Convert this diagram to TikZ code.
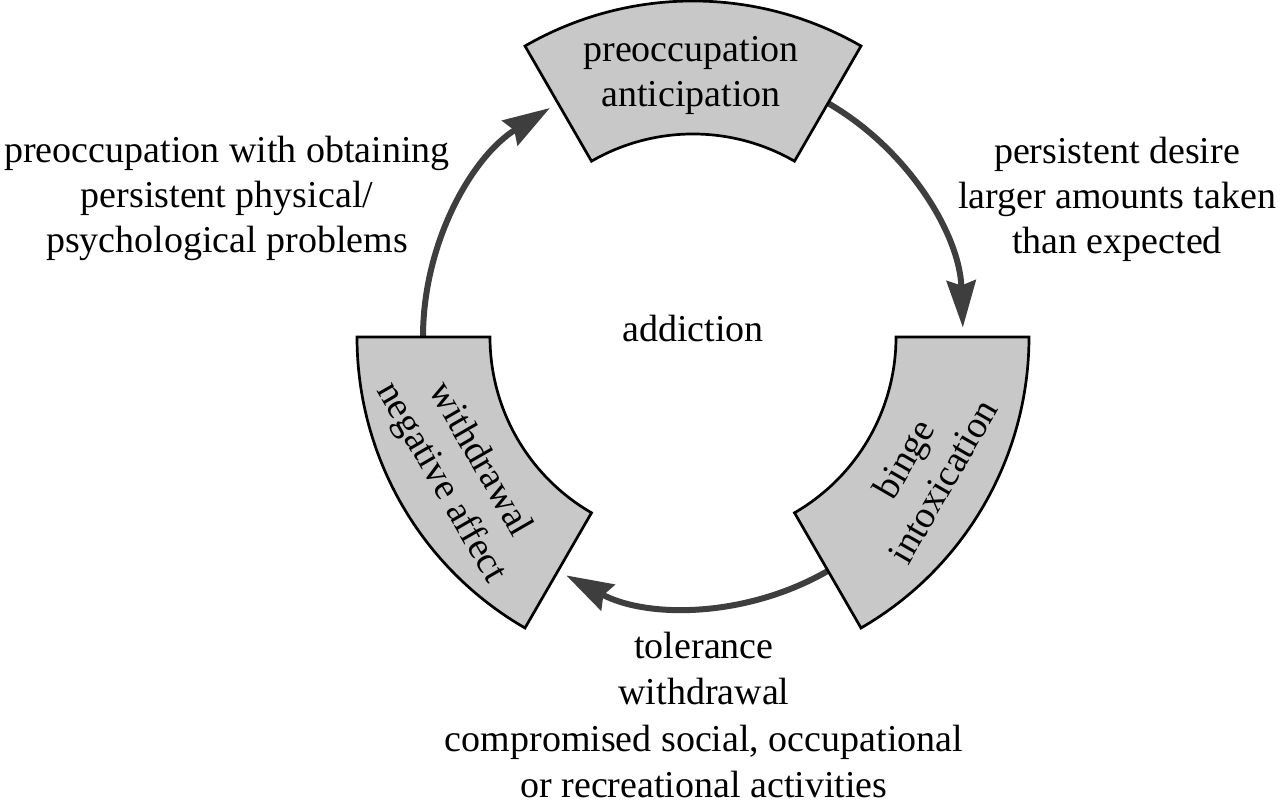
\documentclass[tikz,border=0pt]{standalone}
\usepackage{fontspec}
\setmainfont{Liberation Serif}
\usetikzlibrary{arrows.meta}
\definecolor{blockfill}{RGB}{200,200,200}
\definecolor{arrowgray}{RGB}{62,62,62}
\begin{document}
\begin{tikzpicture}[x=1pt,y=1pt,
  blockshape/.style={fill=blockfill, draw=black, line width=2.7pt, line join=miter},
  cyclearrow/.style={draw=arrowgray, line width=6pt, -{Stealth[length=47pt,width=29pt,inset=5pt]}},
  lbl/.style={font=\fontsize{38}{45}\selectfont, align=center, inner sep=0pt},
  lblwide/.style={font=\fontsize{38}{46.5}\selectfont, align=center, inner sep=0pt},
]
\useasboundingbox (0,0) rectangle (1280,811);
\coordinate (O) at (693,474);

% arrows between the stages
\coordinate (a1) at ([shift={(180:270pt)}]O);
\coordinate (a2) at ([shift={(60:270pt)}]O);
\coordinate (a3) at ([shift={(-60:270pt)}]O);
\draw[cyclearrow] (a1) arc[start angle=180, end angle=122, radius=270pt];
\draw[cyclearrow] (a2) arc[start angle=60, end angle=2, radius=270pt];
\draw[cyclearrow] (a3) arc[start angle=-60, end angle=-118, radius=270pt];

% stage blocks (annular sectors)
\path[blockshape] ([shift={(60:203pt)}]O) -- ([shift={(60:336pt)}]O)
  arc[start angle=60, end angle=120, radius=336pt]
  -- ([shift={(120:203pt)}]O)
  arc[start angle=120, end angle=60, radius=203pt] -- cycle;
\path[blockshape] ([shift={(-60:203pt)}]O) -- ([shift={(-60:336pt)}]O)
  arc[start angle=-60, end angle=0, radius=336pt]
  -- ([shift={(0:203pt)}]O)
  arc[start angle=0, end angle=-60, radius=203pt] -- cycle;
\path[blockshape] ([shift={(180:203pt)}]O) -- ([shift={(180:336pt)}]O)
  arc[start angle=180, end angle=240, radius=336pt]
  -- ([shift={(240:203pt)}]O)
  arc[start angle=240, end angle=180, radius=203pt] -- cycle;

% block labels
\node[lbl, anchor=north] (pre) at (691,781.5) {\strut preoccupation\\\strut anticipation};
\node[lbl, rotate=60] (binge) at ([shift={(-30:269.5pt)}]O) {\strut binge\\\strut intoxication};
\node[lbl, rotate=-60] (withd) at ([shift={(210:269.5pt)}]O) {\strut withdrawal\\\strut negative affect};

% centre
\node[lbl, anchor=base] (addiction) at (693,469) {addiction};

% outer labels
\node[lbl, anchor=north] (leftlbl) at (227,680.5) {\strut preoccupation with obtaining\\\strut persistent physical/\\\strut psychological problems};
\node[lbl, anchor=north] (rightlbl) at (1117,679.5) {\strut persistent desire\\\strut larger amounts taken\\\strut than expected};
\node[lblwide, anchor=north] (bottomlbl) at (704,185.55) {\strut tolerance\\\strut withdrawal\\\strut compromised social, occupational\\\strut or recreational activities};
\end{tikzpicture}
\end{document}
